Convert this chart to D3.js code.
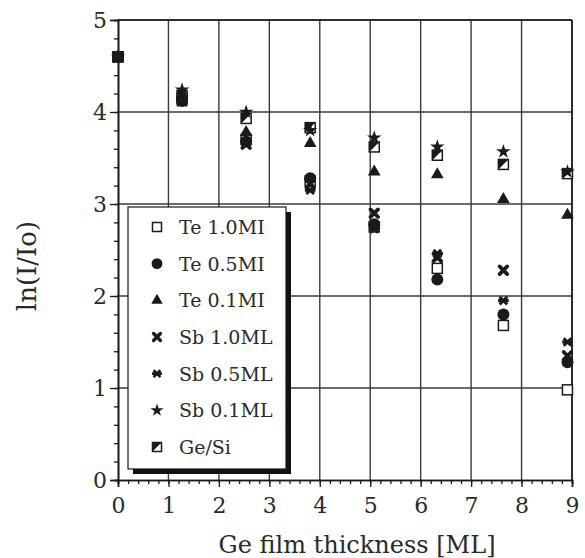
<!DOCTYPE html>
<html><head><meta charset="utf-8">
<script src="https://cdn.jsdelivr.net/npm/d3@7"></script>
<style>
html,body{margin:0;padding:0;background:#fff;}
svg text{font-family:"DejaVu Serif",serif;fill:#2a2a2a;}
</style></head>
<body><svg id="c" width="585" height="558"></svg>
<script>
const thickness = [0, 1.27, 2.54, 3.81, 5.08, 6.33, 7.64, 8.91];
const te10 = [4.6, 4.15, 3.7, 3.25, 2.75, 2.3, 1.68, 0.98];
const te05 = [4.6, 4.12, 3.68, 3.28, 2.78, 2.18, 1.8, 1.28];
const te01 = [4.6, 4.18, 3.78, 3.66, 3.35, 3.32, 3.05, 2.88];
const sb10 = [4.6, 4.12, 3.65, 3.22, 2.9, 2.42, 2.28, 1.35];
const sb05 = [4.6, 4.15, 3.66, 3.15, 2.73, 2.46, 1.95, 1.5];
const sb01 = [4.6, 4.24, 4.0, 3.8, 3.72, 3.62, 3.57, 3.35];
const gesi = [4.6, 4.18, 3.93, 3.83, 3.62, 3.53, 3.43, 3.33];
const seriesNames = ["Te 1.0MI", "Te 0.5MI", "Te 0.1MI", "Sb 1.0ML", "Sb 0.5ML", "Sb 0.1ML", "Ge/Si"];
const xTicks = [0,1,2,3,4,5,6,7,8,9];
const yTicks = [0,1,2,3,4,5];
const xLabel = "Ge film thickness [ML]";
const yLabel = "ln(I/Io)";

const series = [
  {name: seriesNames[0], values: te10, kind: "osquare"},
  {name: seriesNames[1], values: te05, kind: "circle"},
  {name: seriesNames[2], values: te01, kind: "triangle"},
  {name: seriesNames[3], values: sb10, kind: "cross"},
  {name: seriesNames[4], values: sb05, kind: "asterisk"},
  {name: seriesNames[5], values: sb01, kind: "star"},
  {name: seriesNames[6], values: gesi, kind: "half"}
];

const svg = d3.select("#c");
const x = d3.scaleLinear().domain([0,9]).range([118,572]);
const y = d3.scaleLinear().domain([0,5]).range([480,20]);
const ink = "#1a1a1a";

// grid
const g = svg.append("g");
g.selectAll(".vg").data(xTicks.slice(1)).join("line")
  .attr("x1", d=>x(d)).attr("x2", d=>x(d)).attr("y1", y(0)).attr("y2", y(5))
  .attr("stroke", "#3a3a3a").attr("stroke-width", 1.4);
g.selectAll(".hg").data(yTicks.slice(1)).join("line")
  .attr("x1", x(0)).attr("x2", x(9)).attr("y1", d=>y(d)).attr("y2", d=>y(d))
  .attr("stroke", "#3a3a3a").attr("stroke-width", 1.4);

// axes
const xAxis = d3.axisBottom(x).tickValues(xTicks).tickSize(7).tickPadding(10).tickFormat(d3.format("d"));
const xMinor = d3.axisBottom(x).tickValues(d3.range(0, 9.001, 0.2)).tickSize(4).tickFormat("");
const yAxis = d3.axisLeft(y).tickValues(yTicks).tickSize(8).tickPadding(3).tickFormat(d3.format("d"));
const yMinor = d3.axisLeft(y).tickValues(d3.range(0, 5.001, 0.2)).tickSize(4).tickFormat("");

function styleAxis(sel){
  sel.select(".domain").attr("stroke", ink).attr("stroke-width", 1.6);
  sel.selectAll(".tick line").attr("stroke", ink).attr("stroke-width", 1.3);
  sel.selectAll("text").attr("font-size", 22).attr("fill", "#2a2a2a")
    .style("font-family", '"DejaVu Serif",serif');
}
svg.append("g").attr("transform", `translate(0,${y(0)})`).call(xMinor).call(styleAxis);
svg.append("g").attr("transform", `translate(0,${y(0)})`).call(xAxis).call(styleAxis);
svg.append("g").attr("transform", `translate(${x(0)},0)`).call(yMinor).call(styleAxis);
svg.append("g").attr("transform", `translate(${x(0)},0)`).call(yAxis).call(styleAxis);

// frame top/right
svg.append("line").attr("x1", x(0)).attr("x2", x(9)).attr("y1", y(5)).attr("y2", y(5)).attr("stroke", ink).attr("stroke-width", 1.6);
svg.append("line").attr("x1", x(9)).attr("x2", x(9)).attr("y1", y(5)).attr("y2", y(0)).attr("stroke", ink).attr("stroke-width", 1.6);

// labels
svg.append("text").attr("x", 357).attr("y", 553).attr("text-anchor", "middle")
  .attr("font-size", 24).text(xLabel);
svg.append("text").attr("transform", "translate(36,266) rotate(-90)").attr("text-anchor", "middle")
  .attr("font-size", 26).text(yLabel);

// markers
function drawMarker(sel, kind, s){
  const k = s/10;
  if (kind === "osquare") {
    sel.append("rect").attr("x", -5*k).attr("y", -5*k).attr("width", 10*k).attr("height", 10*k)
      .attr("fill", "#fff").attr("stroke", ink).attr("stroke-width", 1.5);
  } else if (kind === "circle") {
    sel.append("circle").attr("r", 6*k).attr("fill", ink);
  } else if (kind === "triangle") {
    sel.append("path").attr("d", d3.symbol(d3.symbolTriangle, 70*k*k)()).attr("fill", ink);
  } else if (kind === "cross") {
    const a = 3.8*k;
    sel.append("path").attr("d", `M${-a},${-a}L${a},${a}M${-a},${a}L${a},${-a}`)
      .attr("stroke", ink).attr("stroke-width", 3.8*k).attr("stroke-linecap", "round");
  } else if (kind === "asterisk") {
    const a = 3.8*k;
    sel.append("path").attr("d", `M${-a},${-a}L${a},${a}M${-a},${a}L${a},${-a}M${-a-1.5},0L${a+1.5},0`)
      .attr("stroke", ink).attr("stroke-width", 3*k);
  } else if (kind === "star") {
    sel.append("path").attr("d", d3.symbol(d3.symbolStar, 65*k*k)()).attr("fill", ink);
  } else if (kind === "half") {
    const a = 5*k;
    sel.append("rect").attr("x", -a).attr("y", -a).attr("width", 2*a).attr("height", 2*a)
      .attr("fill", "#fff").attr("stroke", ink).attr("stroke-width", 1.5);
    sel.append("path").attr("d", `M${-a},${-a}L${a},${-a}L${-a},${a}Z`).attr("fill", ink);
  }
}

const pts = svg.append("g");
const drawOrder = [6, 0, 1, 2, 3, 4, 5];
drawOrder.forEach(si => {
  const s = series[si];
  s.values.forEach((v, i) => {
    const m = pts.append("g").attr("transform", `translate(${x(thickness[i])},${y(v)})`);
    drawMarker(m, s.kind, 10);
  });
});

// legend
const lg = svg.append("g");
const L = {x0: 128, y0: 207, w: 158, h: 262};
lg.append("rect").attr("x", L.x0+5).attr("y", L.y0+5).attr("width", L.w).attr("height", L.h).attr("fill", "#111");
lg.append("rect").attr("x", L.x0).attr("y", L.y0).attr("width", L.w).attr("height", L.h)
  .attr("fill", "#fff").attr("stroke", ink).attr("stroke-width", 1.2);
const rowY = d3.scalePoint().domain(seriesNames).range([227, 447]);
series.forEach(s => {
  const m = lg.append("g").attr("transform", `translate(157,${rowY(s.name)})`);
  drawMarker(m, s.kind, 9);
  lg.append("text").attr("x", 179).attr("y", rowY(s.name)).attr("dy", "0.36em")
    .attr("font-size", 19).text(s.name);
});
</script>
</body></html>
